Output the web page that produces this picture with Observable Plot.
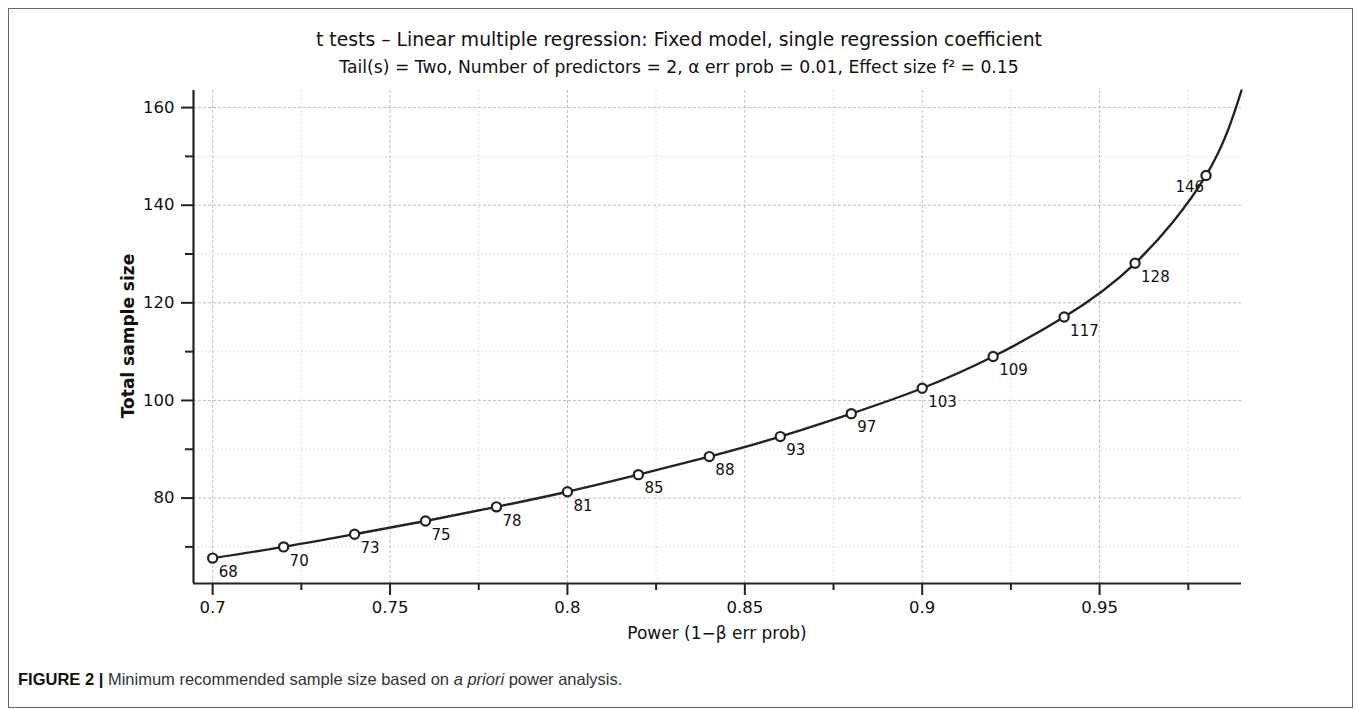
<!DOCTYPE html>
<html>
<head>
<meta charset="utf-8">
<script src="https://cdn.jsdelivr.net/npm/d3@7"></script>
<script src="https://cdn.jsdelivr.net/npm/@observablehq/plot@0.6"></script>
<style>
  html, body { margin: 0; padding: 0; background: #fff; }
  body { width: 1358px; height: 710px; position: relative; overflow: hidden; font-family: "DejaVu Sans", sans-serif; }
  #frame { position: absolute; left: 8px; top: 8px; width: 1345px; height: 700px; border: 1px solid #666; box-sizing: border-box; }
  .t { position: absolute; left: 0; width: 1358px; text-align: center; color: #111; white-space: nowrap; }
  #title { top: 29px; font-size: 18.8px; line-height: 22px; }
  #subtitle { top: 56px; font-size: 17.2px; line-height: 22px; }
  #chart { position: absolute; left: 0; top: 0; }
  #xlabel { position: absolute; left: 193px; width: 1048px; top: 622px; text-align: center; font-size: 17px; line-height: 22px; color: #111; }
  #ylabel { position: absolute; left: 128px; top: 336px; transform: translate(-50%, -50%) rotate(-90deg); font-size: 17px; font-weight: bold; color: #111; white-space: nowrap; }
  #caption { position: absolute; left: 18px; top: 670px; font-family: "Liberation Sans", Arial, sans-serif; font-size: 16.5px; color: #333; white-space: nowrap; }
  #caption b { color: #111; }
</style>
</head>
<body>
<div id="frame"></div>
<div id="chart"></div>
<div id="title" class="t">t tests – Linear multiple regression: Fixed model, single regression coefficient</div>
<div id="subtitle" class="t">Tail(s) = Two, Number of predictors = 2, α err prob = 0.01, Effect size f² = 0.15</div>
<div id="xlabel">Power (1−β err prob)</div>
<div id="ylabel">Total sample size</div>
<div id="caption"><b>FIGURE 2 |</b> Minimum recommended sample size based on <i>a priori</i> power analysis.</div>
<script>
// ---- data ----
const power = [0.70, 0.72, 0.74, 0.76, 0.78, 0.80, 0.82, 0.84, 0.86, 0.88, 0.90, 0.92, 0.94, 0.96, 0.98];
// plotted (continuous) sample size
const sampleSize = [67.7, 70.0, 72.6, 75.3, 78.2, 81.3, 84.8, 88.5, 92.6, 97.3, 102.5, 109.0, 117.1, 128.1, 146.1];
// labelled (required) sample size
const sampleLabels = ["68", "70", "73", "75", "78", "81", "85", "88", "93", "97", "103", "109", "117", "128", "146"];
const curveEndPower = 0.99;
const curveEndSize = 163.5;
const xMajorTicks = [0.7, 0.75, 0.8, 0.85, 0.9, 0.95];
const xMinorTicks = [0.725, 0.775, 0.825, 0.875, 0.925, 0.975];
const yMajorTicks = [80, 100, 120, 140, 160];
const yMinorTicks = [70, 90, 110, 130, 150];
const xDomain = [0.6946, 0.99];
const yDomain = [62.5, 163.5];

const points = power.map((p, i) => ({power: p, size: sampleSize[i], label: sampleLabels[i]}));
const curve = [...points, {power: curveEndPower, size: curveEndSize}];
const lastPoint = points.slice(-1);
const otherPoints = points.slice(0, -1);

const ink = "#222";
const chart = Plot.plot({
  width: 1358,
  height: 650,
  marginLeft: 193,
  marginRight: 117,
  marginTop: 90,
  marginBottom: 67,
  style: {fontFamily: "DejaVu Sans, sans-serif", background: "transparent", color: "#111"},
  x: {domain: xDomain},
  y: {domain: yDomain},
  marks: [
    Plot.gridX(xMinorTicks, {stroke: "#bbb", strokeOpacity: 0.45, strokeDasharray: "2,2"}),
    Plot.gridY(yMinorTicks, {stroke: "#bbb", strokeOpacity: 0.45, strokeDasharray: "2,2"}),
    Plot.gridX(xMajorTicks, {stroke: "#aaa", strokeOpacity: 0.75, strokeDasharray: "3,2"}),
    Plot.gridY(yMajorTicks, {stroke: "#aaa", strokeOpacity: 0.75, strokeDasharray: "3,2"}),
    Plot.axisX(xMinorTicks, {tickSize: 7, strokeWidth: 2, stroke: ink, tickFormat: () => "", label: null}),
    Plot.axisX(xMajorTicks, {tickSize: 12, tickPadding: 6, strokeWidth: 2, stroke: ink, fontSize: 16.5, tickFormat: d => String(d), label: null}),
    Plot.axisY(yMinorTicks, {tickSize: 8, strokeWidth: 2, stroke: ink, tickFormat: () => "", label: null}),
    Plot.axisY(yMajorTicks, {tickSize: 12, tickPadding: 7, strokeWidth: 2, stroke: ink, fontSize: 16.5, tickFormat: d => String(d), label: null}),
    Plot.ruleX([xDomain[0]], {stroke: ink, strokeWidth: 2.2}),
    Plot.ruleY([yDomain[0]], {stroke: ink, strokeWidth: 2.2}),
    Plot.text(otherPoints, {x: "power", y: "size", text: "label", dx: 6, dy: 14, textAnchor: "start", fontSize: 15, fill: "#111"}),
    Plot.text(lastPoint, {x: "power", y: "size", text: "label", dx: -2, dy: 12, textAnchor: "end", fontSize: 15, fill: "#111"}),
    Plot.line(curve, {x: "power", y: "size", curve: "natural", stroke: ink, strokeWidth: 2.4}),
    Plot.dot(points, {x: "power", y: "size", r: 4.6, fill: "white", stroke: ink, strokeWidth: 2.2})
  ]
});
document.getElementById("chart").appendChild(chart);
</script>
</body>
</html>
